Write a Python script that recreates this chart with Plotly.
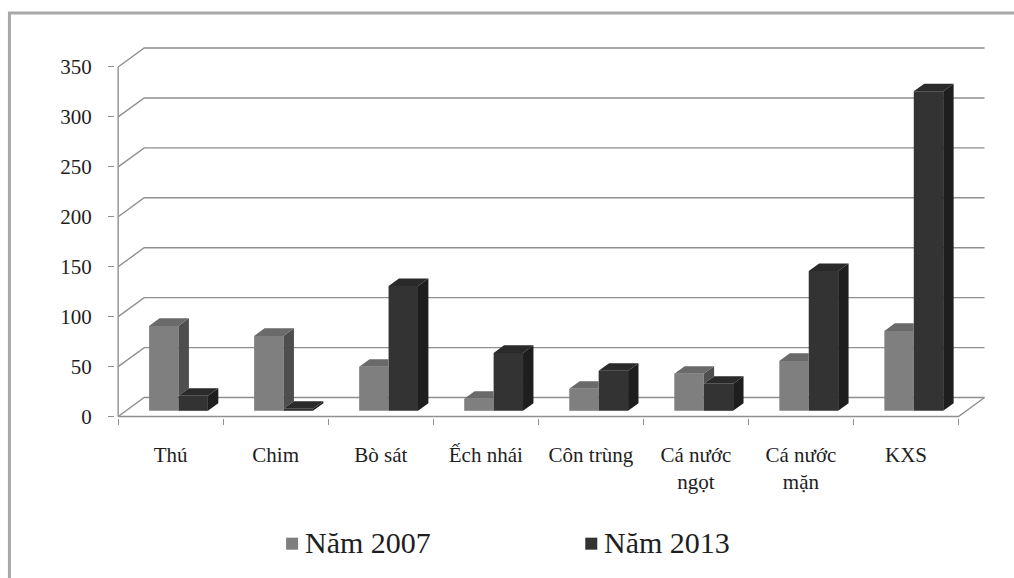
import plotly.graph_objects as go

categories = ["Thú", "Chim", "Bò sát", "Ếch nhái", "Côn trùng",
              "Cá nước<br>ngọt", "Cá nước<br>mặn", "KXS"]
nam_2007 = [85, 75, 44, 12, 22, 37, 50, 80]
nam_2013 = [15, 2, 125, 58, 40, 27, 140, 320]
y_ticks = [0, 50, 100, 150, 200, 250, 300, 350]

# 3D look parameters (axis units)
DX, DY = 0.248, 19.0          # full floor depth
F = 0.3                       # bar position in depth
DXB, DYB = 0.4 * DX, 0.4 * DY # bar thickness in depth
W = 0.28                      # bar width
BASE = F * DY
n = len(categories)

C2007_FRONT, C2007_SIDE, C2007_TOP = "#7f7f7f", "#4e4e4e", "#6a6a6a"
C2013_FRONT, C2013_SIDE, C2013_TOP = "#333333", "#1e1e1e", "#2a2a2a"
GRID = "#8f8f8f"
FONT = "Liberation Serif"
TXT = "#1e1e1e"

# pixel -> paper helpers (plot area: x 115..989.5, y 47..417.5)
def px(x):
    return (x - 115) / 874.5

def py(y):
    return (417.5 - y) / 370.5

fig = go.Figure()

centers = [i + 0.5 + F * DX for i in range(n)]

fig.add_trace(go.Bar(x=[c - W / 2 for c in centers], y=nam_2007, base=BASE, width=W,
                     marker=dict(color=C2007_FRONT, line=dict(width=0)),
                     name="Năm 2007", showlegend=False, hoverinfo="skip"))
fig.add_trace(go.Bar(x=[c + W / 2 for c in centers], y=nam_2013, base=BASE, width=W,
                     marker=dict(color=C2013_FRONT, line=dict(width=0)),
                     name="Năm 2013", showlegend=False, hoverinfo="skip"))

side07x, side07y, top07x, top07y = [], [], [], []
side13x, side13y, top13x, top13y = [], [], [], []
for c, v1, v2 in zip(centers, nam_2007, nam_2013):
    xl, xr = c - W, c
    t1 = BASE + v1
    if v1 > v2:
        lo = BASE + v2
        side07x += [xr, xr + DXB, xr + DXB, xr, None]
        side07y += [lo, lo + DYB, t1 + DYB, t1, None]
    if v2 >= v1 + DYB:
        top07x += [xl, xr, xr, xl + DXB, None]
        top07y += [t1, t1, t1 + DYB, t1 + DYB, None]
    else:
        top07x += [xl, xr, xr + DXB, xl + DXB, None]
        top07y += [t1, t1, t1 + DYB, t1 + DYB, None]
    xl, xr = c, c + W
    t2 = BASE + v2
    side13x += [xr, xr + DXB, xr + DXB, xr, None]
    side13y += [BASE, BASE + DYB, t2 + DYB, t2, None]
    top13x += [xl, xr, xr + DXB, xl + DXB, None]
    top13y += [t2, t2, t2 + DYB, t2 + DYB, None]

for xs, ys, col in [(side07x, side07y, C2007_SIDE), (top07x, top07y, C2007_TOP),
                    (side13x, side13y, C2013_SIDE), (top13x, top13y, C2013_TOP)]:
    fig.add_trace(go.Scatter(x=xs, y=ys, mode="lines", fill="toself", fillcolor=col,
                             line=dict(width=0, color=col), showlegend=False,
                             hoverinfo="skip"))

shapes = []
for v in y_ticks:
    shapes.append(dict(type="path", xref="x", yref="y", layer="below",
                       path=f"M 0,{v} L {DX},{v + DY} L {n + DX},{v + DY}",
                       line=dict(color=GRID, width=1.4)))
shapes.append(dict(type="path", xref="x", yref="y", layer="below",
                   path=f"M 0,0 L {n},0 L {n + DX},{DY}",
                   line=dict(color=GRID, width=1.4)))
shapes.append(dict(type="line", xref="x", yref="y", layer="below",
                   x0=0, x1=0, y0=0, y1=y_ticks[-1],
                   line=dict(color=GRID, width=1.4)))
shapes.append(dict(type="rect", xref="paper", yref="paper",
                   x0=px(9.5), x1=1.2, y0=-0.6, y1=py(13),
                   line=dict(color="#a8a8a8", width=3), fillcolor="rgba(0,0,0,0)"))

# legend keys
legend_items = [("Năm 2007", C2007_FRONT, 286), ("Năm 2013", C2013_FRONT, 585)]
annotations = []
for label, col, x0 in legend_items:
    shapes.append(dict(type="rect", xref="paper", yref="paper",
                       x0=px(x0), x1=px(x0 + 12), y0=py(549), y1=py(537),
                       line=dict(width=0), fillcolor=col))
    annotations.append(dict(xref="paper", yref="paper", x=px(x0 + 17), y=py(542),
                            xanchor="left", yanchor="middle", showarrow=False,
                            text=label, font=dict(family=FONT, size=30, color=TXT)))

fig.update_layout(
    width=1014, height=578,
    margin=dict(l=115, r=24, t=47, b=160),
    paper_bgcolor="white", plot_bgcolor="white",
    barmode="overlay",
    shapes=shapes, annotations=annotations,
    showlegend=False,
    xaxis=dict(range=[-0.03, 8.3], tickvals=[i + 0.5 for i in range(n)],
               ticktext=categories, ticks="", showgrid=False, zeroline=False,
               showline=False, ticklabelstandoff=22,
               tickfont=dict(family=FONT, size=21, color=TXT),
               minor=dict(tickvals=list(range(n + 1)), ticks="outside", ticklen=6,
                          tickcolor=GRID, tickwidth=1.4, showgrid=False),
               fixedrange=True),
    yaxis=dict(range=[-1.5, 370], tickvals=y_ticks, ticks="outside", ticklen=6,
               tickcolor=GRID, tickwidth=1.4, showgrid=False, zeroline=False,
               showline=False, ticklabelstandoff=12,
               tickfont=dict(family=FONT, size=21, color=TXT),
               fixedrange=True),
)

fig.write_html("out.html")
